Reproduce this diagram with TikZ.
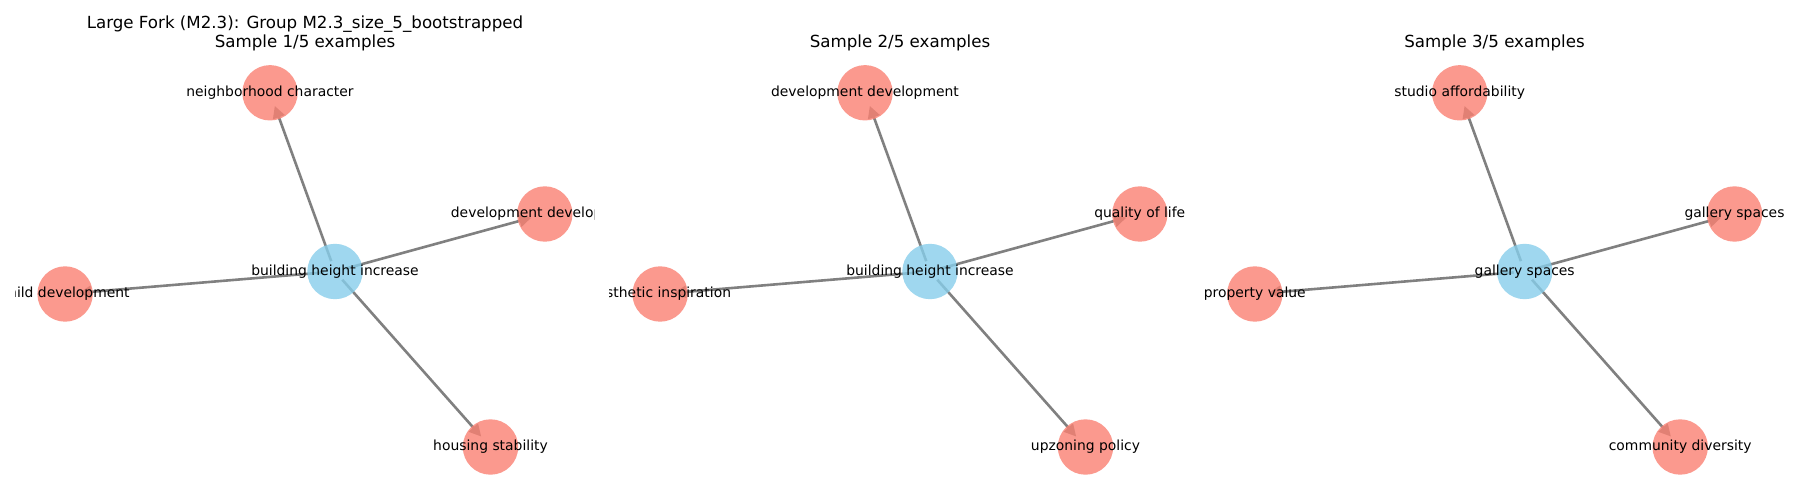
\documentclass[tikz,border=0pt]{standalone}
\usepackage{fontspec}
\setmainfont{DejaVu Sans}
\usetikzlibrary{arrows.meta}
\definecolor{salmon}{HTML}{FA8072}
\definecolor{skyblue}{HTML}{87CEEB}
\definecolor{edgegray}{HTML}{808080}
\pgfdeclarelayer{back}
\pgfdeclarelayer{bg}
\pgfsetlayers{back,bg,main}
\tikzset{
 leaf/.style={circle, fill=salmon, fill opacity=0.8, draw=none, minimum size=55.4pt, inner sep=0pt},
 hub/.style={leaf, fill=skyblue},
 edge/.style={draw=edgegray, line width=2.6pt, shorten <=11pt, shorten >=14pt, -{Triangle[length=12pt,width=12pt]}, fill=edgegray},
 lab/.style={anchor=base, inner sep=0pt, font=\fontsize{13.9}{16}\selectfont, text=black},
 ttl/.style={anchor=base, inner sep=0pt, font=\fontsize{16.67}{20}\selectfont, text=black},
}
% #1 prefix, #2 hub x, #3 clip left, #4 hub text, #5 top, #6 right, #7 left, #8 bottom
\newcommand\drawpanel[8]{%
\begin{scope}
\clip (#3,50) rectangle ++(579,445);
\node[hub]  (#1c) at (#2,271.5) {};
\node[leaf] (#1t) at (#2-65,92.8) {};
\node[leaf] (#1r) at (#2+209.8,214) {};
\node[leaf] (#1l) at (#2-269.9,294) {};
\node[leaf] (#1b) at (#2+155.5,447) {};
\begin{pgfonlayer}{bg}
\foreach \dir in {t,r,l,b} {\draw[edge] (#1c.center) -- (#1\dir.center);}
\end{pgfonlayer}
\node[lab] (#1cl) at ([yshift=-3.6pt]#1c.center) {#4};
\node[lab] (#1tl) at ([yshift=-3.6pt]#1t.center) {#5};
\node[lab] (#1rl) at ([yshift=-3.6pt]#1r.center) {#6};
\node[lab] (#1ll) at ([yshift=-3.6pt]#1l.center) {#7};
\node[lab] (#1bl) at ([yshift=-3.6pt]#1b.center) {#8};
\end{scope}}
\begin{document}
\begin{tikzpicture}[x=1pt,y=-1pt]
\useasboundingbox (0,0) rectangle (1800,500);
\begin{pgfonlayer}{back}
\fill[white] (0,0) rectangle (1800,500);
\end{pgfonlayer}
\node[ttl] (t1a) at (305,29) {Large Fork (M2.3): Group M2.3\_size\_5\_bootstrapped};
\node[ttl] (t1b) at (305,48) {Sample 1/5 examples};
\node[ttl] (t2) at (900,48) {Sample 2/5 examples};
\node[ttl] (t3) at (1494.5,48) {Sample 3/5 examples};
\drawpanel{a}{335}{15}{building height increase}{neighborhood character}{development development}{child development}{housing stability}
\drawpanel{b}{930}{609.5}{building height increase}{development development}{quality of life}{aesthetic inspiration}{upzoning policy}
\drawpanel{c}{1524.7}{1204}{gallery spaces}{studio affordability}{gallery spaces}{property value}{community diversity}
\end{tikzpicture}
\end{document}
